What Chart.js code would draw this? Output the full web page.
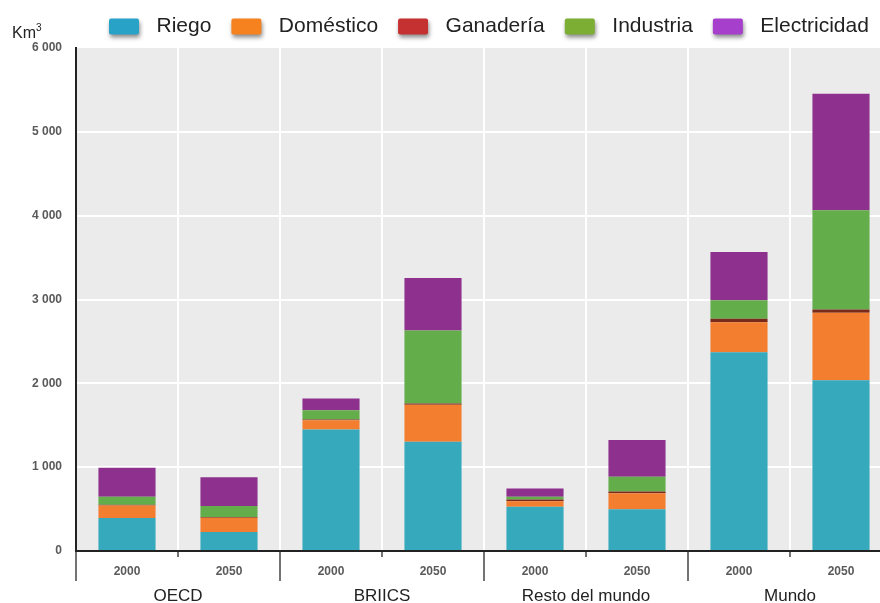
<!DOCTYPE html>
<html><head><meta charset="utf-8">
<script src="https://cdn.jsdelivr.net/npm/chart.js@4/dist/chart.umd.min.js"></script>
<style>html,body{margin:0;padding:0;overflow:hidden;background:#fff;} #wrap{width:892px;height:603px;position:relative;}</style>
</head><body><div id="wrap"><canvas id="c" width="892" height="603"></canvas></div>
<script>
// ---- data ----
const groups = ['OECD', 'BRIICS', 'Resto del mundo', 'Mundo'];
const years = ['2000', '2050', '2000', '2050', '2000', '2050', '2000', '2050'];
const riego = [395, 226, 1449, 1302, 529, 497, 2372, 2038];
const domestico = [149, 172, 111, 444, 63, 191, 357, 803];
const ganaderia = [8, 8, 10, 12, 23, 22, 41, 40];
const industria = [96, 130, 109, 873, 32, 177, 222, 1183];
const electricidad = [345, 345, 139, 624, 99, 436, 574, 1391];
const seriesNames = ['Riego', 'Doméstico', 'Ganadería', 'Industria', 'Electricidad'];
const yMin = 0, yMax = 6000, yStep = 1000;
const unitLabel = 'Km';
const unitSup = '3';

// ---- styles ----
const barColors = ['#37A9BC', '#F47E30', '#7A2A18', '#63AE4B', '#8E318E'];
const legendColors = ['#29A2C8', '#F5821F', '#C53130', '#7BAE33', '#A63FCB'];
const FONT = "'Liberation Sans', Arial, sans-serif";
const SWATCH_W = 30, SWATCH_H = 16;

const seriesData = [riego, domestico, ganaderia, industria, electricidad];
const datasets = seriesNames.map((n, i) => ({
  label: n,
  data: seriesData[i],
  backgroundColor: barColors[i],
  borderWidth: 0,
  barPercentage: 0.56,
  categoryPercentage: 1.0
}));

const fmt = v => String(v).replace(/\B(?=(\d{3})+(?!\d))/g, ' ');

const bgPlugin = {
  id: 'plotBg',
  beforeDraw(chart) {
    const a = chart.chartArea, ctx = chart.ctx;
    ctx.save();
    ctx.fillStyle = '#EBEBEB';
    ctx.fillRect(a.left, a.top, a.right - a.left, a.bottom - a.top);
    ctx.restore();
  },
  afterDraw(chart) {
    const a = chart.chartArea, ctx = chart.ctx;
    ctx.save();
    ctx.fillStyle = '#222';
    ctx.textBaseline = 'alphabetic';
    ctx.font = '16px ' + FONT;
    const x = a.left - 64, y = a.top - 10;
    ctx.fillText(unitLabel, x, y);
    const w = ctx.measureText(unitLabel).width;
    ctx.font = '10px ' + FONT;
    ctx.fillText(unitSup, x + w, y - 7);
    ctx.restore();
    // legend swatches with drop shadow
    const lg = chart.legend;
    if (lg && lg.legendHitBoxes) {
      lg.legendHitBoxes.forEach((hb, i) => {
        ctx.save();
        ctx.shadowColor = 'rgba(0,0,0,0.45)';
        ctx.shadowBlur = 4;
        ctx.shadowOffsetX = 1;
        ctx.shadowOffsetY = 3;
        ctx.fillStyle = legendColors[i];
        const top = hb.top + (hb.height - SWATCH_H) / 2;
        ctx.beginPath();
        if (ctx.roundRect) ctx.roundRect(hb.left, top, SWATCH_W, SWATCH_H, 2);
        else ctx.rect(hb.left, top, SWATCH_W, SWATCH_H);
        ctx.fill();
        ctx.restore();
      });
    }
  }
};

const legendPlugin = {
  id: 'legendTweak',
  beforeInit(chart) {
    const lg = chart.legend;
    const orig = lg.fit;
    lg.fit = function () { orig.call(lg); this.height = 48; };
  },
  afterLayout(chart) {
    const lg = chart.legend;
    lg.left = 109 - 20;
    lg.top = -4;
  }
};

new Chart(document.getElementById('c'), {
  type: 'bar',
  data: { labels: years, datasets },
  plugins: [bgPlugin, legendPlugin],
  options: {
    responsive: false,
    animation: false,
    layout: { padding: 0 },
    plugins: {
      tooltip: { enabled: false },
      legend: {
        position: 'top',
        align: 'start',
        labels: {
          boxWidth: 37,
          boxHeight: SWATCH_H,
          padding: 20,
          color: '#222',
          font: { family: FONT, size: 21 },
          generateLabels: (chart) => seriesNames.map((n, i) => ({
            text: n, fillStyle: 'rgba(0,0,0,0)', strokeStyle: 'rgba(0,0,0,0)',
            lineWidth: 0, hidden: false, datasetIndex: i, fontColor: '#222'
          }))
        }
      }
    },
    scales: {
      x: {
        stacked: true,
        offset: true,
        weight: 0,
        border: { display: true, color: '#222', width: 2 },
        grid: {
          offset: true,
          drawOnChartArea: true,
          color: '#FFFFFF',
          lineWidth: 2,
          tickLength: 30,
          tickWidth: 1.5,
          tickColor: '#444',
          tickBorderDash: (ctx) => (ctx.index % 2 === 1 ? [5, 200] : [])
        },
        ticks: {
          padding: -17,
          color: '#5A5A5A',
          font: { family: FONT, size: 12, weight: 'bold' },
          maxRotation: 0, autoSkip: false
        },
        afterFit: (s) => { s.height = 28; }
      },
      x2: {
        type: 'category',
        labels: groups,
        position: 'bottom',
        offset: true,
        weight: 1,
        border: { display: false },
        grid: { display: false, drawTicks: false },
        ticks: {
          padding: 7,
          color: '#222',
          font: { family: FONT, size: 17 },
          maxRotation: 0, autoSkip: false
        },
        afterFit: (s) => { s.height = 24; }
      },
      y: {
        stacked: true,
        min: yMin, max: yMax,
        border: { display: true, color: '#222', width: 2 },
        grid: {
          color: (ctx) => (ctx.tick && ctx.tick.value === yMax ? 'rgba(0,0,0,0)' : '#FFFFFF'),
          lineWidth: 2,
          tickLength: 4,
          tickColor: 'rgba(0,0,0,0)'
        },
        ticks: {
          stepSize: yStep,
          padding: 10,
          color: '#5A5A5A',
          font: { family: FONT, size: 12, weight: 'bold' },
          callback: (v) => fmt(v)
        },
        afterFit: (s) => { s.width = 76; }
      }
    }
  }
});
</script>
</body></html>
